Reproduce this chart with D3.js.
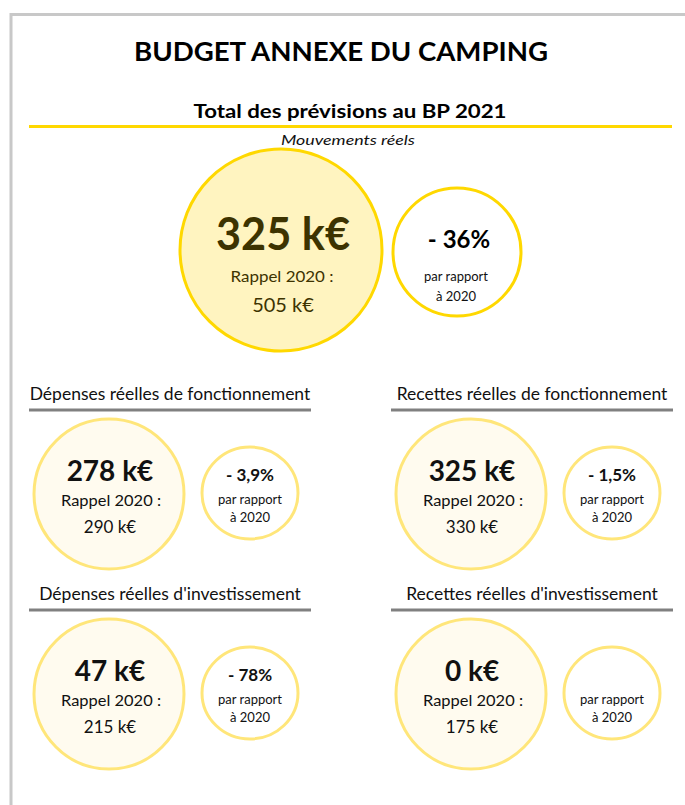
<!DOCTYPE html>
<html>
<head>
<meta charset="utf-8">
<script src="https://cdn.jsdelivr.net/npm/d3@7"></script>
<style>
  html, body { margin: 0; padding: 0; background: #fff; }
  svg { display: block; font-family: Lato, "Open Sans", sans-serif; }
</style>
</head>
<body>
<svg width="685" height="805"></svg>
<script>
(function (d3) {
  'use strict';

  // Données du budget annexe (en k€)
  const titre = 'BUDGET ANNEXE DU CAMPING';
  const sousTitre = 'Total des prévisions au BP 2021';
  const mention = 'Mouvements réels';

  const totalBp2021 = 325;
  const totalRappel2020 = 505;
  const totalEvolution = -36;

  const rubriques = [
    'Dépenses réelles de fonctionnement',
    'Recettes réelles de fonctionnement',
    "Dépenses réelles d'investissement",
    "Recettes réelles d'investissement"
  ];
  const bp2021 = [278, 325, 47, 0];
  const rappel2020 = [290, 330, 215, 175];
  const evolution = [-3.9, -1.5, -78, null];

  const svg = d3.select('svg');
  const largeur = +svg.attr('width');
  const hauteur = +svg.attr('height');

  // format à la française : virgule décimale
  const fr = d3.formatLocale({ decimal: ',', thousands: ' ', grouping: [3], currency: ['', ' €'] });
  const fmtNb = fr.format('~g');
  const fmtKe = v => `${fmtNb(v)} k€`;
  const fmtEvol = v => v == null ? '' : `${v < 0 ? '- ' : '+ '}${fmtNb(Math.abs(v))}%`;

  const jaune = '#ffd800';
  const jaunePale = '#ffe67a';

  // cadre gris
  svg.append('path')
    .attr('d', `M11,${hauteur} L11,14.5 L${largeur},14.5`)
    .attr('fill', 'none')
    .attr('stroke', '#c8c8c8')
    .attr('stroke-width', 3);

  // titres
  svg.append('text')
    .attr('x', 341).attr('y', 61)
    .attr('text-anchor', 'middle')
    .attr('font-size', 27).attr('font-weight', 'bold')
    .attr('textLength', 414).attr('lengthAdjust', 'spacingAndGlyphs')
    .attr('fill', '#000')
    .text(titre);

  svg.append('text')
    .attr('x', 350).attr('y', 118)
    .attr('text-anchor', 'middle')
    .attr('font-size', 19).attr('font-weight', 'bold')
    .attr('textLength', 313).attr('lengthAdjust', 'spacingAndGlyphs')
    .attr('fill', '#000')
    .text(sousTitre);

  svg.append('line')
    .attr('x1', 29).attr('x2', 672)
    .attr('y1', 126.5).attr('y2', 126.5)
    .attr('stroke', jaune).attr('stroke-width', 3);

  svg.append('text')
    .attr('x', 348).attr('y', 145)
    .attr('text-anchor', 'middle')
    .attr('font-size', 14).attr('font-style', 'italic')
    .attr('textLength', 134).attr('lengthAdjust', 'spacingAndGlyphs')
    .attr('fill', '#111')
    .text(mention);

  // bloc total
  const total = svg.append('g');
  total.append('circle')
    .attr('cx', 281).attr('cy', 250).attr('r', 101)
    .attr('fill', '#fff4c0')
    .attr('stroke', jaune).attr('stroke-width', 3);
  total.append('text')
    .attr('x', 283).attr('y', 250)
    .attr('text-anchor', 'middle')
    .attr('font-size', 46).attr('font-weight', 'bold')
    .attr('textLength', 134).attr('lengthAdjust', 'spacingAndGlyphs')
    .attr('fill', '#3d3300')
    .text(fmtKe(totalBp2021));
  total.append('text')
    .attr('x', 282).attr('y', 282)
    .attr('text-anchor', 'middle')
    .attr('font-size', 16)
    .attr('textLength', 103).attr('lengthAdjust', 'spacingAndGlyphs')
    .attr('fill', '#3d3300')
    .text('Rappel 2020 :');
  total.append('text')
    .attr('x', 283).attr('y', 312)
    .attr('text-anchor', 'middle')
    .attr('font-size', 20)
    .attr('fill', '#3d3300')
    .text(fmtKe(totalRappel2020));

  total.append('circle')
    .attr('cx', 457).attr('cy', 252).attr('r', 64)
    .attr('fill', '#fff')
    .attr('stroke', jaune).attr('stroke-width', 3);
  total.append('text')
    .attr('x', 459).attr('y', 248)
    .attr('text-anchor', 'middle')
    .attr('font-size', 24).attr('font-weight', 'bold')
    .attr('fill', '#000')
    .text(fmtEvol(totalEvolution));
  total.append('text')
    .attr('x', 456).attr('y', 281)
    .attr('text-anchor', 'middle')
    .attr('font-size', 13)
    .attr('fill', '#111')
    .text('par rapport');
  total.append('text')
    .attr('x', 456).attr('y', 301)
    .attr('text-anchor', 'middle')
    .attr('font-size', 13)
    .attr('fill', '#111')
    .text('à 2020');

  // grille des quatre rubriques
  const colonne = d3.scaleOrdinal().domain([0, 1]).range([29, 391]);
  const ligne = d3.scaleOrdinal().domain([0, 1]).range([409, 609]);
  const largeurBloc = 282;

  const blocs = rubriques.map((r, i) => ({
    rubrique: r,
    bp: bp2021[i],
    rappel: rappel2020[i],
    evol: evolution[i],
    x: colonne(i % 2),
    y: ligne(Math.floor(i / 2))
  }));

  const g = svg.selectAll('g.bloc')
    .data(blocs)
    .join('g')
      .attr('class', 'bloc')
      .attr('transform', d => `translate(${d.x}, ${d.y})`);

  g.append('text')
    .attr('x', largeurBloc / 2).attr('y', -9)
    .attr('text-anchor', 'middle')
    .attr('font-size', 17.5)
    .attr('fill', '#111')
    .text(d => d.rubrique);

  g.append('line')
    .attr('x1', 0).attr('x2', largeurBloc)
    .attr('y1', 1).attr('y2', 1)
    .attr('stroke', '#808080').attr('stroke-width', 3);

  g.append('circle')
    .attr('cx', 80).attr('cy', 85).attr('r', 75)
    .attr('fill', '#fffbef')
    .attr('stroke', jaunePale).attr('stroke-width', 3);

  g.append('text')
    .attr('x', 81).attr('y', 72)
    .attr('text-anchor', 'middle')
    .attr('font-size', 28).attr('font-weight', 'bold')
    .attr('fill', '#111')
    .text(d => fmtKe(d.bp));

  g.append('text')
    .attr('x', 82).attr('y', 97)
    .attr('text-anchor', 'middle')
    .attr('font-size', 15)
    .attr('textLength', 100).attr('lengthAdjust', 'spacingAndGlyphs')
    .attr('fill', '#111')
    .text('Rappel 2020 :');

  g.append('text')
    .attr('x', 81).attr('y', 124)
    .attr('text-anchor', 'middle')
    .attr('font-size', 17)
    .attr('fill', '#111')
    .text(d => fmtKe(d.rappel));

  g.append('ellipse')
    .attr('cx', 221).attr('cy', 84).attr('rx', 48).attr('ry', 46)
    .attr('fill', '#fff')
    .attr('stroke', jaunePale).attr('stroke-width', 3);

  g.append('text')
    .attr('x', 221).attr('y', 72)
    .attr('text-anchor', 'middle')
    .attr('font-size', 17).attr('font-weight', 'bold')
    .attr('fill', '#111')
    .text(d => fmtEvol(d.evol));

  g.append('text')
    .attr('x', 221).attr('y', 95)
    .attr('text-anchor', 'middle')
    .attr('font-size', 13)
    .attr('fill', '#111')
    .text('par rapport');

  g.append('text')
    .attr('x', 221).attr('y', 113)
    .attr('text-anchor', 'middle')
    .attr('font-size', 13)
    .attr('fill', '#111')
    .text('à 2020');

}(d3));
</script>
</body>
</html>
